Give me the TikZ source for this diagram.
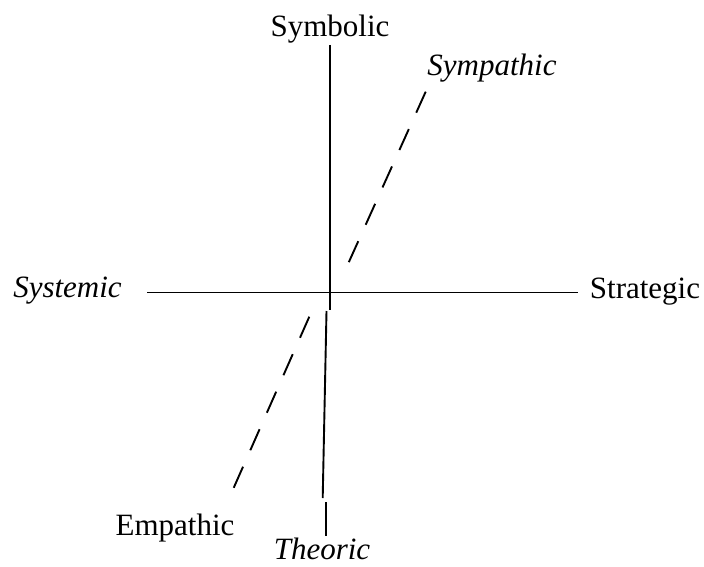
\documentclass[tikz,border=0pt]{standalone}
\usepackage{fontspec}
\setmainfont{Liberation Serif}
\begin{document}
\begin{tikzpicture}[x=1pt,y=-1pt,
  lbl/.style={inner sep=0pt,anchor=base,font=\fontsize{31}{36}\selectfont},
  axis/.style={line width=1.9pt,black},
  dsh/.style={line width=1.9pt,black,dash pattern=on 23pt off 18pt}]
\useasboundingbox (0,0) rectangle (704,567);
% labels
\node[lbl] (symb) at (330,37) {Symbolic};
\node[lbl] (symp) at (492,76) {\itshape Sympathic};
\node[lbl] (syst) at (67.5,297) {\itshape Systemic};
\node[lbl] (strat) at (645,298) {Strategic};
\node[lbl] (emp) at (175,535) {Empathic};
\node[lbl] (theo) at (322,559) {\itshape Theoric};
% axis end points
\coordinate (h1) at (147,292.5);
\coordinate (h2) at (578,292.5);
\coordinate (v1) at (330,45);
\coordinate (v2) at (330,310);
\coordinate (v3) at (326.5,311);
\coordinate (v4) at (322.7,498);
\coordinate (v5) at (326,502);
\coordinate (v6) at (326,536);
\coordinate (d1) at (425.7,91.7);
\coordinate (d2) at (348.3,263.3);
\coordinate (d3) at (309.3,316.7);
\coordinate (d4) at (232.3,491);
\draw[axis] (h1) -- (h2);
\draw[axis] (v1) -- (v2);
\draw[axis] (v3) -- (v4);
\draw[axis] (v5) -- (v6);
\draw[dsh] (d1) -- (d2);
\draw[dsh] (d3) -- (d4);
\end{tikzpicture}
\end{document}
